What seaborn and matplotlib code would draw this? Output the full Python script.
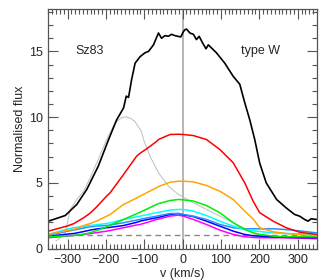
import matplotlib
matplotlib.use("Agg")
import matplotlib.pyplot as plt
import seaborn as sns
import pandas as pd
from matplotlib.ticker import MultipleLocator

# ---- data ----
v_black = [-350, -306, -276, -250, -220, -193, -172, -154, -147, -141, -133, -124, -111, -98, -89, -76, -63, -55, -46, -37, -29, -20, -5, 2, 6, 10, 19, 28, 36, 43, 52, 61, 67, 75, 88, 110, 132, 149, 162, 175, 188, 201, 218, 245, 270, 292, 305, 318, 327, 335, 349]
f_black = [2.09, 2.52, 3.36, 4.5, 6.27, 8.3, 9.8, 10.7, 11.6, 11.5, 12.86, 14.1, 14.6, 14.9, 15.0, 15.5, 16.4, 16.0, 16.2, 16.15, 16.3, 16.2, 16.1, 16.5, 16.65, 16.7, 16.4, 16.3, 15.9, 16.15, 15.65, 15.2, 15.5, 15.27, 14.9, 14.1, 13.1, 12.5, 11.1, 9.8, 8.3, 6.5, 5.0, 3.74, 3.1, 2.6, 2.47, 2.22, 2.09, 2.27, 2.22]

v_col = [-350, -302, -284, -258, -241, -224, -198, -189, -154, -120, -111, -94, -68, -63, -33, -11, 2, 28, 62, 97, 132, 162, 184, 201, 236, 270, 305, 349]
f_red = [1.33, 1.71, 1.9, 2.35, 2.7, 3.18, 4.0, 4.25, 5.64, 7.03, 7.25, 7.59, 8.15, 8.3, 8.68, 8.7, 8.68, 8.6, 8.3, 7.54, 6.53, 5.0, 3.6, 2.73, 2.09, 1.59, 1.25, 1.08]
f_orange = [1.08, 1.38, 1.46, 1.75, 1.91, 2.1, 2.47, 2.6, 3.36, 3.85, 3.99, 4.25, 4.63, 4.72, 5.05, 5.13, 5.13, 5.08, 4.8, 4.37, 3.74, 2.85, 2.25, 1.59, 1.28, 1.15, 1.05, 1.0]
f_green = [0.9, 0.97, 1.0, 1.1, 1.21, 1.38, 1.66, 1.78, 2.22, 2.65, 2.77, 3.0, 3.36, 3.42, 3.66, 3.74, 3.71, 3.62, 3.28, 2.73, 1.97, 1.46, 1.2, 1.08, 0.95, 0.9, 0.9, 0.9]
f_cyan = [1.08, 1.48, 1.59, 1.7, 1.76, 1.82, 1.91, 1.96, 2.22, 2.42, 2.47, 2.58, 2.73, 2.76, 2.93, 2.98, 2.98, 2.85, 2.52, 2.09, 1.71, 1.46, 1.36, 1.3, 1.2, 1.15, 1.12, 1.08]
f_dblue = [1.0, 1.32, 1.41, 1.57, 1.66, 1.72, 1.76, 1.8, 1.97, 2.17, 2.22, 2.33, 2.47, 2.5, 2.67, 2.67, 2.6, 2.47, 2.22, 1.84, 1.59, 1.51, 1.51, 1.51, 1.51, 1.45, 1.35, 1.2]
f_blue = [0.95, 1.1, 1.15, 1.3, 1.41, 1.5, 1.59, 1.62, 1.76, 2.0, 2.09, 2.2, 2.35, 2.38, 2.6, 2.67, 2.57, 2.44, 2.09, 1.71, 1.33, 1.08, 0.98, 0.95, 0.9, 0.86, 0.84, 0.83]
f_magenta = [0.83, 0.96, 1.0, 1.08, 1.15, 1.22, 1.33, 1.38, 1.59, 1.8, 1.84, 1.98, 2.22, 2.25, 2.47, 2.55, 2.47, 2.22, 1.84, 1.41, 1.08, 0.9, 0.85, 0.83, 0.83, 0.82, 0.8, 0.75]

v_gray = [-330, -324, -306, -293, -276, -258, -241, -220, -198, -176, -160, -147, -135, -124, -107, -102, -85, -63, -37, -11, 28, 62, 97, 132, 167, 193, 210]
f_gray = [0.6, 0.7, 1.21, 2.98, 3.74, 4.37, 5.39, 6.78, 8.3, 9.57, 9.95, 10.02, 9.9, 9.65, 8.9, 8.3, 7.03, 5.77, 4.75, 4.12, 3.49, 2.98, 2.47, 1.97, 1.46, 1.05, 0.95]

series_names = ["red", "orange", "green", "cyan", "dblue", "blue", "magenta"]
series_vals = [f_red, f_orange, f_green, f_cyan, f_dblue, f_blue, f_magenta]
series_colors = {"red": "#ff0000", "orange": "#ffa500", "green": "#00ee00", "cyan": "#00ffff",
                 "dblue": "#2a8cff", "blue": "#0000ff", "magenta": "#ff00ff"}

sns.set_theme(style="ticks")
plt.rcParams["font.family"] = ["Liberation Sans", "DejaVu Sans"]

fig = plt.figure(figsize=(3.27, 2.80), dpi=100)
ax = fig.add_axes([0.148, 0.112, 0.821, 0.857])

rows = []
for name, vals in zip(series_names, series_vals):
    for v, f in zip(v_col, vals):
        rows.append({"v": v, "f": f, "s": name})
df = pd.DataFrame(rows)

ax.axvline(0, color="#b5b5b5", lw=1.4, zorder=0)
ax.axhline(1, color="#888888", lw=1.0, ls=(0, (4, 3)), zorder=0.5)

sns.lineplot(x=v_gray, y=f_gray, color="#bdbdbd", lw=0.7, ax=ax, sort=False, estimator=None)
sns.lineplot(data=df, x="v", y="f", hue="s", palette=series_colors, lw=1.1, ax=ax,
             sort=False, estimator=None, legend=False, hue_order=series_names[::-1])
sns.lineplot(x=v_black, y=f_black, color="black", lw=1.2, ax=ax, sort=False, estimator=None)

ax.set_xlim(-350, 350)
ax.set_ylim(0, 18.25)
ax.xaxis.set_major_locator(MultipleLocator(100))
ax.xaxis.set_minor_locator(MultipleLocator(10))
ax.yaxis.set_major_locator(MultipleLocator(5))
ax.yaxis.set_minor_locator(MultipleLocator(1))
ax.tick_params(which="both", direction="in", top=True, right=True, color="#555555",
               labelsize=9, pad=4)
ax.tick_params(which="major", length=7, width=0.8)
ax.tick_params(which="minor", length=3.5, width=0.8)
for sp in ax.spines.values():
    sp.set_color("#555555")
    sp.set_linewidth(0.9)

ax.set_xlabel("v (km/s)", fontsize=9, labelpad=1)
ax.set_ylabel("Normalised flux", fontsize=9, labelpad=2)
ax.text(-280, 15.0, "Sz83", fontsize=9, va="center", ha="left")
ax.text(253, 15.0, "type W", fontsize=9, va="center", ha="right")

fig.savefig("out.png", dpi=100)
